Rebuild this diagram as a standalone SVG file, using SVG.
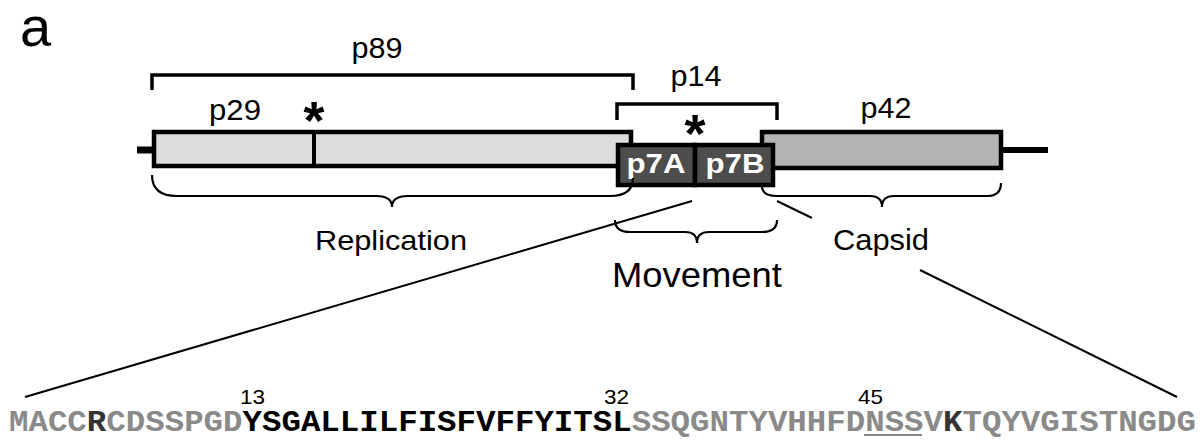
<svg xmlns="http://www.w3.org/2000/svg" width="1202" height="440" viewBox="0 0 1202 440">
<style>
.lbl{font-family:"Liberation Sans",Arial,sans-serif;fill:#000}
.bw{font-family:"Liberation Sans",Arial,sans-serif;font-weight:bold;fill:#fff}
.br{fill:none;stroke:#000;stroke-width:3.5}
.cb{fill:none;stroke:#000;stroke-width:2.2}
.ln{fill:none;stroke:#000;stroke-width:2}
.seq{font-family:"Liberation Mono","Courier New",monospace;font-weight:bold}
.g{fill:#8a8a8a}
.d{fill:#333}
.k{fill:#000}
</style>
<rect width="1202" height="440" fill="#fff"/>
<text class="lbl" x="20" y="46" font-size="56">a</text>

<g id="connectors">
<line class="ln" x1="25" y1="397" x2="692" y2="201"/>
<line class="ln" x1="777" y1="201" x2="812" y2="218"/>
<line class="ln" x1="920" y1="270" x2="1177" y2="397"/>
</g>

<g id="genome">
<line x1="137" y1="150" x2="154" y2="150" stroke="#000" stroke-width="7"/>
<line x1="1001" y1="150" x2="1048" y2="150" stroke="#000" stroke-width="6"/>
</g>

<g id="p89">
<path class="br" d="M152,90 V75 H633 V90"/>
<text class="lbl" x="377" y="58" font-size="29" text-anchor="middle" textLength="51" lengthAdjust="spacingAndGlyphs">p89</text>
</g>

<g id="p29">
<rect x="154" y="132" width="477" height="34" fill="#dcdcdc" stroke="#000" stroke-width="4.5"/>
<line x1="314" y1="130" x2="314" y2="168" stroke="#000" stroke-width="4"/>
<text class="lbl" x="235" y="120" font-size="29" text-anchor="middle" textLength="52" lengthAdjust="spacingAndGlyphs">p29</text>
<text class="lbl" x="314" y="139" font-size="54" font-weight="bold" text-anchor="middle">*</text>
</g>

<g id="p42">
<rect x="762" y="132" width="239" height="36" fill="#b3b3b3" stroke="#000" stroke-width="4.5"/>
<text class="lbl" x="886" y="118" font-size="29" text-anchor="middle" textLength="51" lengthAdjust="spacingAndGlyphs">p42</text>
</g>

<g id="p14">
<path class="br" d="M617,120 V104 H777 V120"/>
<text class="lbl" x="696" y="86" font-size="29" text-anchor="middle" textLength="51" lengthAdjust="spacingAndGlyphs">p14</text>
<text class="lbl" x="695" y="152" font-size="54" font-weight="bold" text-anchor="middle">*</text>
</g>

<g id="p7A">
<rect x="618" y="145" width="77" height="40" fill="#4d4d4d" stroke="#000" stroke-width="4.5"/>
<text class="bw" x="656" y="173" font-size="27" text-anchor="middle" textLength="59" lengthAdjust="spacingAndGlyphs">p7A</text>
</g>
<g id="p7B">
<rect x="695" y="145" width="78" height="40" fill="#4d4d4d" stroke="#000" stroke-width="4.5"/>
<text class="bw" x="735" y="173" font-size="27" text-anchor="middle" textLength="59" lengthAdjust="spacingAndGlyphs">p7B</text>
</g>

<g id="replication">
<path class="cb" d="M152,175 Q152,196 177,196 L376,196 Q392,196 392,207 Q392,196 408,196 L610,196 Q633,196 633,178"/>
<text class="lbl" x="391" y="250" font-size="28" text-anchor="middle" textLength="152" lengthAdjust="spacingAndGlyphs">Replication</text>
</g>

<g id="capsid">
<path class="cb" d="M762,186 Q762,196 777,196 L870,196 Q882,196 882,207 Q882,196 894,196 L987,196 Q1001,196 1001,183"/>
<text class="lbl" x="881" y="250" font-size="29" text-anchor="middle" textLength="96" lengthAdjust="spacingAndGlyphs">Capsid</text>
</g>

<g id="movement">
<path class="cb" d="M615,220 Q615,232 630,232 L685,232 Q697,232 697,243 Q697,232 709,232 L762,232 Q777,232 777,220"/>
<text class="lbl" x="697" y="287" font-size="35" text-anchor="middle" textLength="170" lengthAdjust="spacingAndGlyphs">Movement</text>
</g>

<g id="sequence">
<text class="lbl" x="240" y="404" font-size="21" textLength="25" lengthAdjust="spacingAndGlyphs">13</text>
<text class="lbl" x="604" y="404" font-size="21" textLength="25" lengthAdjust="spacingAndGlyphs">32</text>
<text class="lbl" x="858" y="404" font-size="21" textLength="25" lengthAdjust="spacingAndGlyphs">45</text>
<text class="seq" x="9" y="431" font-size="29" textLength="1187" lengthAdjust="spacingAndGlyphs"><tspan class="g">MACC</tspan><tspan class="d">R</tspan><tspan class="g">CDSSPGD</tspan><tspan class="k">YSGALLILFISFVFFYITSL</tspan><tspan class="g">SSQGNTYVHHFDNSSV</tspan><tspan class="d">K</tspan><tspan class="g">TQYVGISTNGDG</tspan></text>
<line x1="864" y1="435" x2="922" y2="435" stroke="#8a8a8a" stroke-width="2"/>
</g>
</svg>
